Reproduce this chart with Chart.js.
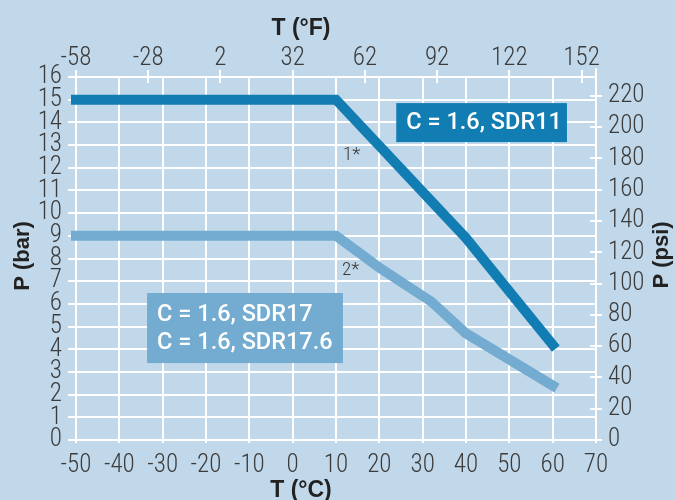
<!DOCTYPE html>
<html>
<head>
<meta charset="utf-8">
<script src="https://cdn.jsdelivr.net/npm/chart.js@4.4.1/dist/chart.umd.min.js"></script>
<style>
  html, body { margin: 0; padding: 0; background: #c1d8ea; }
  #wrap { width: 675px; height: 500px; }
</style>
</head>
<body>
<div id="wrap"><canvas id="chart" width="675" height="500"></canvas></div>
<script>
// pressure/temperature curves
const sdr11TempC = [-50, 10, 40, 60];
const sdr11Bar = [15, 15, 8.9, 4.2];
const sdr17TempC = [-50, 10, 20, 32, 40, 60];
const sdr17Bar = [9, 9, 7.6, 6.1, 4.7, 2.4];

// secondary axis tick labels
const fahrenheitTicks = [-58, -28, 2, 32, 62, 92, 122, 152];
const psiTicks = [0, 20, 40, 60, 80, 100, 120, 140, 160, 180, 200, 220];

const BAR_TO_PSI = 14.5038;
const BG = '#c1d8ea';
const DARK = '#127db2';
const LIGHT = '#74abd0';
const NARROW = '"Roboto Condensed", "Liberation Sans Narrow", "DejaVu Sans Condensed", sans-serif';
const TICK_FONT = { family: NARROW, size: 25, weight: 300, lineHeight: 1 };
const TICK_COLOR = '#3c3c3c';

const toF = c => c * 9 / 5 + 32;
const toPoints = (xs, ys) => xs.map((x, i) => ({ x: x, y: ys[i] }));

// labels drawn on top of the plot (in data units)
const boxNotes = [
  { lines: ['C = 1.6, SDR11'], x0: 23.9, x1: 63.3, y0: 14.85, y1: 13.13, color: DARK },
  { lines: ['C = 1.6, SDR17', 'C = 1.6, SDR17.6'], x0: -33.6, x1: 11.6, y0: 6.48, y1: 3.39, color: LIGHT }
];
const starNotes = [
  { text: '1*', x: 11.6, y: 12.54 },
  { text: '2*', x: 11.4, y: 7.47 }
];

const decorations = {
  id: 'decorations',
  beforeDraw(chart) {
    const { ctx, width, height } = chart;
    ctx.save();
    ctx.fillStyle = BG;
    ctx.fillRect(0, 0, width, height);
    ctx.restore();
  },
  afterDatasetsDraw(chart) {
    const { ctx, chartArea: a, scales } = chart;
    const { x, y, x2, y2 } = scales;
    ctx.save();

    // tick marks crossing the top and right edges
    ctx.strokeStyle = '#fff';
    ctx.lineWidth = 2;
    ctx.beginPath();
    x2.ticks.forEach(t => {
      const px = Math.round(x2.getPixelForValue(t.value));
      ctx.moveTo(px, a.top - 7);
      ctx.lineTo(px, a.top + 6);
    });
    y2.ticks.forEach(t => {
      const py = Math.round(y2.getPixelForValue(t.value));
      ctx.moveTo(a.right - 6, py);
      ctx.lineTo(a.right + 6, py);
    });
    ctx.moveTo(Math.round(a.right), a.top - 9);
    ctx.lineTo(Math.round(a.right), a.top);
    ctx.stroke();

    // coloured label boxes
    boxNotes.forEach(n => {
      const left = x.getPixelForValue(n.x0), right = x.getPixelForValue(n.x1);
      const top = y.getPixelForValue(n.y0), bottom = y.getPixelForValue(n.y1);
      ctx.fillStyle = n.color;
      ctx.fillRect(left, top, right - left, bottom - top);
      ctx.fillStyle = '#fff';
      ctx.font = '500 23.5px Roboto, "Liberation Sans", sans-serif';
      ctx.textBaseline = 'middle';
      ctx.textAlign = 'left';
      const mid = (top + bottom) / 2;
      const step = 28;
      n.lines.forEach((line, i) => {
        ctx.fillText(line, left + 10, mid + (i - (n.lines.length - 1) / 2) * step + 1);
      });
    });

    ctx.fillStyle = '#3a3a3a';
    ctx.font = '300 19px ' + NARROW;
    ctx.textBaseline = 'middle';
    ctx.textAlign = 'left';
    starNotes.forEach(n => {
      ctx.fillText(n.text, x.getPixelForValue(n.x), y.getPixelForValue(n.y));
    });

    // axis titles
    ctx.fillStyle = '#222';
    ctx.font = 'bold 23px "Liberation Sans", Arial, sans-serif';
    ctx.textAlign = 'center';
    ctx.textBaseline = 'alphabetic';
    ctx.fillText('T (°F)', 301, 35);
    ctx.fillText('T (°C)', 301, 497);
    ctx.textBaseline = 'middle';
    ctx.font = 'bold 22px "Liberation Sans", Arial, sans-serif';
    [['P (bar)', 23, 256], ['P (psi)', 662, 255]].forEach(([txt, cx, cy]) => {
      ctx.save();
      ctx.translate(cx, cy);
      ctx.rotate(-Math.PI / 2);
      ctx.fillText(txt, 0, 0);
      ctx.restore();
    });
    ctx.restore();
  }
};

new Chart(document.getElementById('chart'), {
  type: 'line',
  data: {
    datasets: [
      {
        label: 'C = 1.6, SDR11',
        data: toPoints(sdr11TempC, sdr11Bar),
        borderColor: DARK,
        borderWidth: 10,
        borderCapStyle: 'square',
        borderJoinStyle: 'miter',
        pointRadius: 0,
        tension: 0,
        clip: false
      },
      {
        label: 'C = 1.6, SDR17 / SDR17.6',
        data: toPoints(sdr17TempC, sdr17Bar),
        borderColor: LIGHT,
        borderWidth: 10,
        borderCapStyle: 'square',
        borderJoinStyle: 'miter',
        pointRadius: 0,
        tension: 0,
        clip: false
      }
    ]
  },
  options: {
    responsive: false,
    animation: false,
    layout: { padding: 0 },
    plugins: {
      legend: { display: false },
      tooltip: { enabled: false }
    },
    scales: {
      x: {
        type: 'linear',
        position: 'bottom',
        min: -50,
        max: 70,
        ticks: { stepSize: 10, autoSkip: false, maxRotation: 0, color: TICK_COLOR, font: TICK_FONT, padding: 10 },
        grid: { color: '#fff', lineWidth: 2, tickLength: 3 },
        border: { display: false },
        afterFit: s => { s.height = 60; }
      },
      x2: {
        type: 'linear',
        position: 'top',
        min: toF(-50),
        max: toF(70),
        afterBuildTicks: s => { s.ticks = fahrenheitTicks.map(v => ({ value: v })); },
        ticks: { autoSkip: false, maxRotation: 0, color: TICK_COLOR, font: TICK_FONT, padding: 6 },
        grid: { display: false, drawTicks: false },
        border: { display: false },
        afterFit: s => { s.height = 77; }
      },
      y: {
        type: 'linear',
        position: 'left',
        min: 0,
        max: 16,
        ticks: { stepSize: 1, autoSkip: false, color: TICK_COLOR, font: TICK_FONT, padding: 6 },
        grid: { color: '#fff', lineWidth: 2, tickLength: 8 },
        border: { display: false },
        afterFit: s => { s.width = 76; }
      },
      y2: {
        type: 'linear',
        position: 'right',
        min: 0,
        max: 16 * BAR_TO_PSI,
        afterBuildTicks: s => { s.ticks = psiTicks.map(v => ({ value: v })); },
        ticks: { autoSkip: false, color: TICK_COLOR, font: TICK_FONT, padding: 12 },
        grid: { display: false, drawTicks: false },
        border: { display: false },
        afterFit: s => { s.width = 79; }
      }
    }
  },
  plugins: [decorations]
});
</script>
</body>
</html>
